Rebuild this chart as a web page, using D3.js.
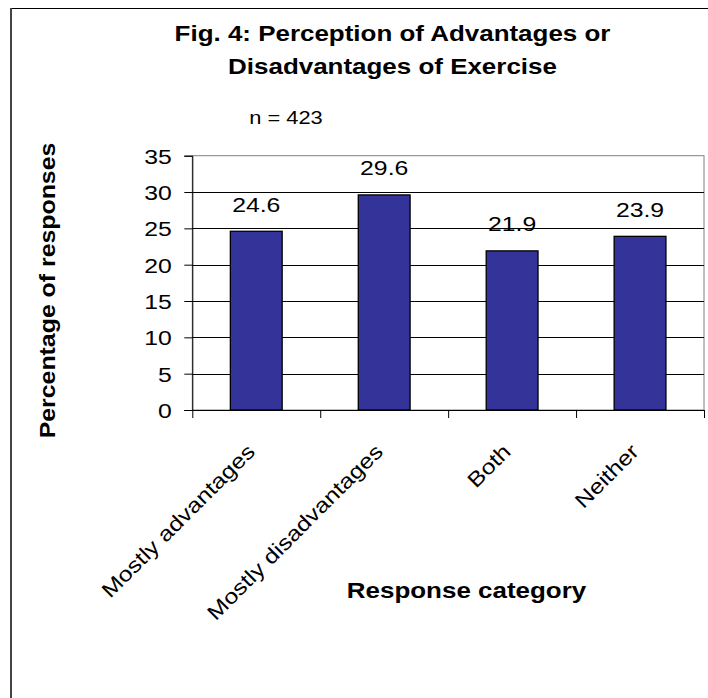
<!DOCTYPE html>
<html lang="en">
<head>
    <meta charset="UTF-8">
    <title>Fig. 4: Perception of Advantages or Disadvantages of Exercise</title>
    <style>
        body, html {
            margin: 0;
            padding: 0;
            background-color: #ffffff;
        }
        svg {
            display: block;
            font-family: "Liberation Sans", Arial, sans-serif;
        }
    </style>
</head>
<body>
    <script src="https://d3js.org/d3.v7.min.js"></script>
    <script>
        // Chart data
        var categories = ["Mostly advantages", "Mostly disadvantages", "Both", "Neither"];
        var percentages = [24.6, 29.6, 21.9, 23.9];
        var yTicks = [0, 5, 10, 15, 20, 25, 30, 35];
        var titleLines = ["Fig. 4: Perception of Advantages or", "Disadvantages of Exercise"];
        var sampleNote = "n = 423";

        var width = 708,
            height = 698;

        // the original text is drawn a little wider than Arial
        var stretch = 1.18;

        var plot = { left: 192.3, right: 704, top: 155.7, bottom: 410 };

        var svg = d3.select("body").append("svg")
            .attr("width", width)
            .attr("height", height);

        // outer frame (only top and left edges are visible)
        svg.append("line")
            .attr("x1", 10).attr("x2", width)
            .attr("y1", 8.5).attr("y2", 8.5)
            .attr("stroke", "#000").attr("stroke-width", 1.2);
        svg.append("line")
            .attr("x1", 11).attr("x2", 11)
            .attr("y1", 8).attr("y2", height)
            .attr("stroke", "#444").attr("stroke-width", 2);

        // scales
        var y = d3.scaleLinear()
            .domain([0, 35])
            .range([plot.bottom, plot.top]);

        var x = d3.scaleBand()
            .domain(categories)
            .range([plot.left, plot.right])
            .padding(0);

        var xEdges = d3.scaleLinear()
            .domain([0, categories.length])
            .range([plot.left, plot.right]);

        var barWidth = x.bandwidth() * 0.405;

        // title
        svg.selectAll(".title")
            .data(titleLines)
            .enter()
            .append("text")
            .attr("class", "title")
            .attr("text-anchor", "middle")
            .attr("transform", function(d, i) {
                return "translate(392.5," + (41 + i * 32.5) + ") scale(" + stretch + ",1)";
            })
            .attr("font-size", 22)
            .attr("font-weight", "bold")
            .text(function(d) { return d; });

        svg.append("text")
            .attr("text-anchor", "middle")
            .attr("transform", "translate(286,124) scale(" + stretch + ",1)")
            .attr("font-size", 18.5)
            .text(sampleNote);

        // plot area border
        svg.append("rect")
            .attr("x", plot.left)
            .attr("y", plot.top)
            .attr("width", plot.right - plot.left)
            .attr("height", plot.bottom - plot.top)
            .attr("fill", "none")
            .attr("stroke", "#808080")
            .attr("stroke-width", 1);

        // gridlines
        svg.append("g")
            .selectAll("line")
            .data(yTicks.filter(function(d) { return d > 0 && d < 35; }))
            .enter()
            .append("line")
            .attr("x1", plot.left)
            .attr("x2", plot.right)
            .attr("y1", function(d) { return Math.round(y(d)) + 0.5; })
            .attr("y2", function(d) { return Math.round(y(d)) + 0.5; })
            .attr("stroke", "#000")
            .attr("stroke-width", 1);

        // bars
        svg.append("g")
            .selectAll("rect")
            .data(percentages)
            .enter()
            .append("rect")
            .attr("x", function(d, i) { return x(categories[i]) + (x.bandwidth() - barWidth) / 2; })
            .attr("y", function(d) { return y(d); })
            .attr("width", barWidth)
            .attr("height", function(d) { return y(0) - y(d); })
            .attr("fill", "#333399")
            .attr("stroke", "#000")
            .attr("stroke-width", 1.3);

        // value labels
        svg.append("g")
            .selectAll("text")
            .data(percentages)
            .enter()
            .append("text")
            .attr("text-anchor", "middle")
            .attr("transform", function(d, i) {
                var cx = x(categories[i]) + x.bandwidth() / 2;
                return "translate(" + cx + "," + (y(d) - 19.5) + ") scale(" + stretch + ",1)";
            })
            .attr("font-size", 21)
            .text(function(d) { return d.toFixed(1); });

        // y axis
        var yAxis = svg.append("g")
            .attr("transform", "translate(" + plot.left + ",0)")
            .call(d3.axisLeft(y).tickValues(yTicks).tickSize(8).tickFormat(d3.format("d")));
        yAxis.select(".domain").attr("stroke", "#000");
        yAxis.selectAll(".tick text")
            .attr("x", 0)
            .attr("dy", "0.36em")
            .attr("transform", "translate(-20.6,0) scale(" + stretch + ",1)")
            .attr("font-size", 21)
            .attr("font-family", "Liberation Sans, Arial, sans-serif")
            .attr("fill", "#000");

        // x axis (ticks sit between categories)
        var xAxis = svg.append("g")
            .attr("transform", "translate(0," + plot.bottom + ")")
            .call(d3.axisBottom(xEdges)
                .tickValues(d3.range(categories.length + 1))
                .tickSize(8)
                .tickSizeOuter(0)
                .tickFormat(""));
        xAxis.select(".domain").attr("stroke", "#000");

        // category labels
        svg.append("g")
            .selectAll("text")
            .data(categories)
            .enter()
            .append("text")
            .attr("text-anchor", "end")
            .attr("transform", function(d) {
                var cx = x(d) + x.bandwidth() / 2;
                return "translate(" + cx + ",453) rotate(-45) scale(" + stretch + ",1)";
            })
            .attr("font-size", 21)
            .text(function(d) { return d; });

        // axis titles
        svg.append("text")
            .attr("text-anchor", "middle")
            .attr("transform", "translate(466.5,598) scale(" + stretch + ",1)")
            .attr("font-size", 22)
            .attr("font-weight", "bold")
            .text("Response category");

        svg.append("text")
            .attr("text-anchor", "middle")
            .attr("transform", "translate(55,290.5) rotate(-90) scale(1.13,1)")
            .attr("font-size", 22)
            .attr("font-weight", "bold")
            .text("Percentage of responses");
    </script>
</body>
</html>
